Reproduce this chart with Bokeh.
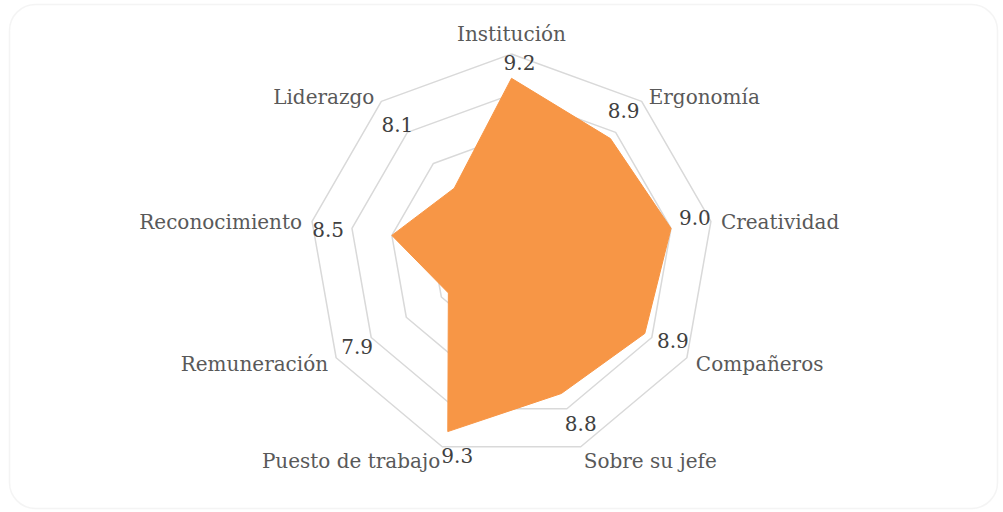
import numpy as np
from bokeh.plotting import figure
from bokeh.models import Range1d, ColumnDataSource, BoxAnnotation
from bokeh.core.properties import value, field
from bokeh.embed import file_html
from bokeh.resources import INLINE

# ---- data ----
categories = ["Institución", "Ergonomía", "Creatividad", "Compañeros", "Sobre su jefe",
              "Puesto de trabajo", "Remuneración", "Reconocimiento", "Liderazgo"]
values = [9.2, 8.9, 9.0, 8.9, 8.8, 9.3, 7.9, 8.5, 8.1]
value_labels = ["9.2", "8.9", "9.0", "8.9", "8.8", "9.3", "7.9", "8.5", "8.1"]
ring_levels = [7.5, 8.0, 8.5, 9.0, 9.5]
axis_min = 7.0
axis_max = 9.5

# ---- layout / style ----
W, H = 1003, 512
CX, CY = 511, 256
SCALE = 81.0
FONT = "DejaVu Serif"
# offsets (px) of value labels from outer vertex
val_dx = [8, -18, -16, -14, 0, 15, 21, 16, 16]
val_dy = [8, 9, -4, -17, -23, 9, -11, 8, 23]
# offsets (px) of category labels from outer vertex
cat_dx = [0, 7, 10, 9, 3, -2, -8, -10, -7]
cat_dy = [-20, -4, 1, 6, 14, 14, 6, 1, -4]
cat_align = ["center", "left", "left", "left", "left", "right", "right", "right", "right"]

n = len(categories)
angles = [2 * np.pi * i / n for i in range(n)]


def polar(v, a):
    r = (v - axis_min) * SCALE
    return CX + r * np.sin(a), CY - r * np.cos(a)


p = figure(width=W, height=H, x_range=Range1d(0, W), y_range=Range1d(H, 0),
           output_backend="svg", toolbar_location=None, min_border=0)
p.axis.visible = False
p.grid.visible = False
p.outline_line_color = None
p.background_fill_color = "white"
p.border_fill_color = "white"

# rounded chart border
p.add_layout(BoxAnnotation(left=9, right=997, top=4, bottom=508,
                           fill_color=None, line_color="#d9d9d9", line_width=1.5,
                           border_radius=26, level="underlay"))

# rings
for lv in ring_levels:
    pts = [polar(lv, a) for a in angles] + [polar(lv, angles[0])]
    p.line([q[0] for q in pts], [q[1] for q in pts], line_color="#d9d9d9", line_width=1.5)

# data polygon
pts = [polar(v, a) for v, a in zip(values, angles)]
p.patch([q[0] for q in pts], [q[1] for q in pts], fill_color="#F79646", line_color="#F79646",
        line_width=1)

# labels
outer = [polar(axis_max, a) for a in angles]
vsrc = ColumnDataSource(dict(
    x=[o[0] + dx for o, dx in zip(outer, val_dx)],
    y=[o[1] + dy for o, dy in zip(outer, val_dy)],
    t=value_labels))
p.text("x", "y", "t", source=vsrc, text_font=value(FONT), text_font_size="20px",
       text_color="#404040", text_align="center", text_baseline="middle")

csrc = ColumnDataSource(dict(
    x=[o[0] + dx for o, dx in zip(outer, cat_dx)],
    y=[o[1] + dy for o, dy in zip(outer, cat_dy)],
    t=categories, align=cat_align))
p.text("x", "y", "t", source=csrc, text_font=value(FONT), text_font_size="20px",
       text_color="#595959", text_align=field("align"), text_baseline="middle")

open("out.html", "w").write(file_html(p, INLINE))
